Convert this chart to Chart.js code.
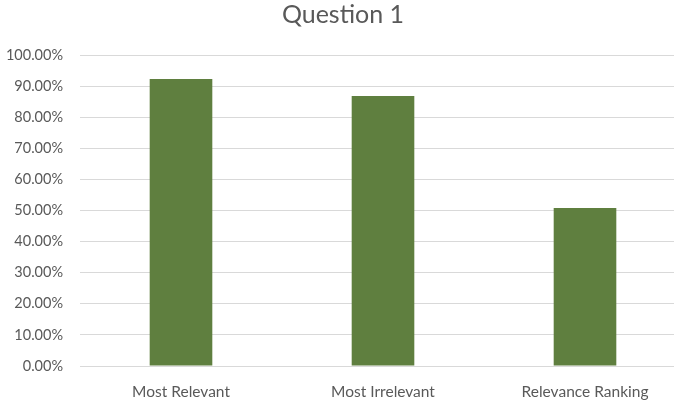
<!DOCTYPE html>
<html>
<head>
<meta charset="utf-8">
<script src="https://cdn.jsdelivr.net/npm/chart.js@4/dist/chart.umd.min.js"></script>
<style>
  html, body { margin: 0; padding: 0; background: #fff; overflow: hidden; }
  #wrap { width: 688px; height: 406px; position: relative; }
</style>
</head>
<body>
<div id="wrap"><canvas id="chart"></canvas></div>
<script>
const categories = ["Most Relevant", "Most Irrelevant", "Relevance Ranking"]
const values = [0.923, 0.868, 0.508]
const yTicks = [0, 0.1, 0.2, 0.3, 0.4, 0.5, 0.6, 0.7, 0.8, 0.9, 1.0]

const textColor = "#595959"
const fontFamily = "Lato, 'Open Sans', sans-serif"

const ctx = document.getElementById("chart").getContext("2d")

new Chart(ctx, {
  type: "bar",
  data: {
    labels: categories,
    datasets: [{
      data: values,
      backgroundColor: "#5F7F3F",
      borderWidth: 0,
      categoryPercentage: 1.0,
      barPercentage: 0.31
    }]
  },
  options: {
    responsive: true,
    maintainAspectRatio: false,
    animation: false,
    layout: { padding: { left: 0, right: 2, top: 0, bottom: 0 } },
    plugins: {
      legend: { display: false },
      tooltip: { enabled: false },
      title: {
        display: true,
        text: "Question 1",
        color: textColor,
        font: { family: fontFamily, size: 25, weight: "normal" },
        padding: { top: 0, bottom: 25 }
      }
    },
    scales: {
      x: {
        grid: { display: false },
        border: { color: "#D9D9D9", width: 1 },
        ticks: {
          color: textColor,
          font: { family: fontFamily, size: 15.5 },
          padding: 9
        },
        afterFit: function(scale) { scale.height = 40 }
      },
      y: {
        min: 0,
        max: 1,
        afterBuildTicks: function(scale) {
          scale.ticks = yTicks.map(v => ({ value: v }))
        },
        grid: { color: "#D9D9D9", lineWidth: 1, drawTicks: false },
        border: { display: false },
        ticks: {
          color: textColor,
          font: { family: fontFamily, size: 14.5 },
          padding: 17,
          callback: v => (v * 100).toFixed(2) + "%"
        },
        afterFit: function(scale) { scale.width = 80 }
      }
    }
  }
})
</script>
</body>
</html>
